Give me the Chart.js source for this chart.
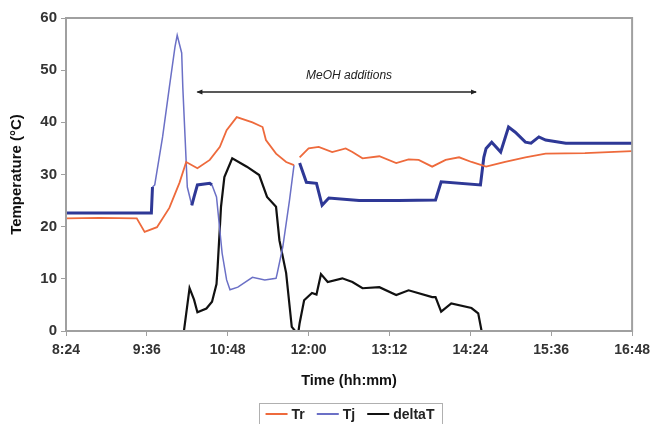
<!DOCTYPE html>
<html>
<head>
<meta charset="utf-8">
<script src="https://cdn.jsdelivr.net/npm/chart.js@4.4.1/dist/chart.umd.min.js"></script>
<style>
  html, body { margin: 0; padding: 0; background: #fff; }
  #wrap { width: 656px; height: 424px; position: relative; }
</style>
</head>
<body>
<div id="wrap"><canvas id="chart" width="656" height="424"></canvas></div>
<script>
// Reactor temperature log
const xTickLabels = ['8:24', '9:36', '10:48', '12:00', '13:12', '14:24', '15:36', '16:48'];

const trTimes = ['8:24', '8:54', '9:27', '9:34', '9:45', '9:56', '10:05', '10:11', '10:21', '10:32', '10:41', '10:47',
    '10:56', '11:10', '11:19', '11:22', '11:31', '11:40', '11:47', '11:49', '11:52', '12:00', '12:09', '12:21', '12:33',
    '12:39', '12:48', '13:03', '13:18', '13:29', '13:38', '13:50', '14:02', '14:14', '14:25', '14:38', '14:55', '15:13',
    '15:31', '16:06', '16:48'];
const trValues = [21.6, 21.7, 21.6, 19.0, 19.9, 23.6, 28.4, 32.4, 31.2, 32.8, 35.3, 38.5,
    41.0, 40.0, 39.1, 36.6, 34.0, 32.4, 31.8, null, 33.3, 35.0, 35.3, 34.3, 35.0,
    34.3, 33.1, 33.5, 32.2, 32.9, 32.8, 31.5, 32.8, 33.3, 32.4, 31.5, 32.4, 33.3,
    34.0, 34.1, 34.5];

const tjTimes = ['8:24', '9:40', '9:41', '9:43', '9:50', '9:56', '10:01', '10:03', '10:07', '10:08', '10:10', '10:12',
    '10:16', '10:18', '10:21', '10:32', '10:34', '10:38', '10:43', '10:47', '10:50', '10:57', '11:10', '11:21', '11:31',
    '11:32', '11:37', '11:43', '11:47', '11:49', '11:52', '11:58', '12:07', '12:12', '12:18', '12:45', '13:20', '13:53',
    '13:58', '14:33', '14:36', '14:38', '14:43', '14:51', '14:58', '15:04', '15:13', '15:18', '15:25', '15:31', '15:49',
    '16:48'];
const tjValues = [22.6, 22.6, 27.6, 28.0, 37.2, 46.7, 54.4, 56.7, 53.3, 46.7, 37.2, 27.6,
    24.1, 25.7, 28.0, 28.3, 28.0, 25.7, 14.9, 9.8, 7.9, 8.4, 10.3, 9.8, 10.1,
    11.0, 16.1, 25.1, 31.8, null, 32.2, 28.5, 28.3, 24.1, 25.5, 25.0, 25.0, 25.1,
    28.6, 28.0, 33.3, 35.0, 36.2, 34.3, 39.1, 38.1, 36.2, 36.0, 37.2, 36.6, 36.0,
    36.0];

const dtTimes = ['10:09', '10:14', '10:18', '10:21', '10:29', '10:34', '10:38', '10:39', '10:42', '10:45', '10:52', '11:05',
    '11:16', '11:23', '11:31', '11:34', '11:40', '11:45', '11:48', '11:51', '11:52', '11:56', '12:03', '12:07', '12:11',
    '12:17', '12:30', '12:39', '12:48', '13:03', '13:18', '13:29', '13:50', '13:53', '13:58', '14:07', '14:25', '14:31',
    '14:34'];
const dtValues = [0, 8.2, 6.0, 3.6, 4.3, 5.6, 9.0, 12.3, 23.8, 29.5, 33.1, 31.5,
    29.9, 25.7, 23.8, 17.4, 11.1, 0.8, 0, 0, 1.5, 5.9, 7.3, 7.0, 10.9,
    9.4, 10.1, 9.4, 8.2, 8.4, 6.9, 7.8, 6.5, 6.5, 3.7, 5.3, 4.4, 3.4,
    0];

// MeOH additions arrow
const arrowFrom = '10:21';
const arrowTo = '14:29';
const arrowLevel = 45.8;
const arrowText = 'MeOH additions';
const arrowTextAt = ['12:36', 49.0];

const toMin = s => { const [h, m] = s.split(':'); return +h * 60 + +m; };
const fmtMin = v => Math.floor(v / 60) + ':' + String(v % 60).padStart(2, '0');
const pts = (times, vals) => times.map((t, i) => ({ x: toMin(t), y: vals[i] }));

const FONT = 'Arial, "Liberation Sans", sans-serif';
const TR_COLOR = '#ee6a3c';
const TJ_DARK = '#2e3896';
const TJ_LIGHT = '#6b70c6';

// Tj trace looks thin during the fast swings
const tjThin = x => (x >= toMin('9:41') && x < toMin('10:16')) || (x >= toMin('10:34') && x < toMin('11:52'));

const framePlugin = {
    id: 'frame',
    afterDraw(chart) {
        const { ctx, chartArea: a, scales: { x, y } } = chart;
        ctx.save();
        // plot frame
        ctx.strokeStyle = '#a0a0a0';
        ctx.lineWidth = 2;
        ctx.strokeRect(a.left, a.top, a.right - a.left, a.bottom - a.top);

        // arrow
        const x0 = x.getPixelForValue(toMin(arrowFrom));
        const x1 = x.getPixelForValue(toMin(arrowTo));
        const ay = y.getPixelForValue(arrowLevel);
        ctx.strokeStyle = '#222';
        ctx.fillStyle = '#222';
        ctx.lineWidth = 1.5;
        ctx.beginPath();
        ctx.moveTo(x0, ay);
        ctx.lineTo(x1, ay);
        ctx.stroke();
        ctx.beginPath();
        ctx.moveTo(x0 - 1, ay);
        ctx.lineTo(x0 + 5, ay - 2.5);
        ctx.lineTo(x0 + 5, ay + 2.5);
        ctx.closePath();
        ctx.fill();
        ctx.beginPath();
        ctx.moveTo(x1 + 1, ay);
        ctx.lineTo(x1 - 5, ay - 2.5);
        ctx.lineTo(x1 - 5, ay + 2.5);
        ctx.closePath();
        ctx.fill();

        ctx.font = 'italic 12px ' + FONT;
        ctx.textAlign = 'center';
        ctx.textBaseline = 'middle';
        ctx.fillText(arrowText, x.getPixelForValue(toMin(arrowTextAt[0])), y.getPixelForValue(arrowTextAt[1]));

        // legend box
        const items = chart.data.datasets.map(ds => ({ label: ds.label, color: ds.legendColor }));
        ctx.font = 'bold 14px ' + FONT;
        ctx.textAlign = 'left';
        const lineLen = 22, gap = 4, sep = 12;
        let total = 0;
        items.forEach((it, i) => { total += lineLen + gap + ctx.measureText(it.label).width + (i < items.length - 1 ? sep : 0); });
        const cx = 350;
        const boxW = total + 14;
        const bx = cx - boxW / 2;
        const by = 403;
        ctx.strokeStyle = '#b0b0b0';
        ctx.lineWidth = 1;
        ctx.strokeRect(Math.round(bx) + 0.5, by + 0.5, Math.round(boxW), 30);
        let px = bx + 7;
        const ly = by + 11;
        items.forEach(it => {
            ctx.strokeStyle = it.color;
            ctx.lineWidth = 2;
            ctx.beginPath();
            ctx.moveTo(px, ly);
            ctx.lineTo(px + lineLen, ly);
            ctx.stroke();
            px += lineLen + gap;
            ctx.fillStyle = '#222';
            ctx.fillText(it.label, px, ly + 1);
            px += ctx.measureText(it.label).width + sep;
        });
        ctx.restore();
    }
};

new Chart(document.getElementById('chart'), {
    type: 'line',
    data: {
        datasets: [
            {
                label: 'Tr',
                data: pts(trTimes, trValues),
                borderColor: TR_COLOR,
                legendColor: TR_COLOR,
                borderWidth: 1.8,
                pointRadius: 0,
                tension: 0,
                spanGaps: false
            },
            {
                label: 'Tj',
                data: pts(tjTimes, tjValues),
                borderColor: TJ_DARK,
                legendColor: TJ_LIGHT,
                borderWidth: 3,
                pointRadius: 0,
                tension: 0,
                spanGaps: false,
                segment: {
                    borderWidth: c => tjThin(c.p0.parsed.x) ? 1.5 : 3,
                    borderColor: c => tjThin(c.p0.parsed.x) ? TJ_LIGHT : TJ_DARK
                }
            },
            {
                label: 'deltaT',
                data: pts(dtTimes, dtValues),
                borderColor: '#111',
                legendColor: '#111',
                borderWidth: 2.2,
                pointRadius: 0,
                tension: 0
            }
        ]
    },
    options: {
        responsive: false,
        animation: false,
        layout: { padding: { left: 0, right: 22, top: 18, bottom: 0 } },
        plugins: {
            legend: { display: false },
            tooltip: { enabled: false }
        },
        scales: {
            x: {
                type: 'linear',
                min: toMin(xTickLabels[0]),
                max: toMin(xTickLabels[xTickLabels.length - 1]),
                afterBuildTicks: s => { s.ticks = xTickLabels.map(t => ({ value: toMin(t) })); },
                afterFit: s => { s.height = 93; },
                ticks: {
                    callback: v => fmtMin(v),
                    maxRotation: 0,
                    autoSkip: false,
                    padding: 6,
                    color: '#333',
                    font: { family: FONT, size: 14, weight: 'bold' }
                },
                grid: { drawOnChartArea: false, drawTicks: true, tickLength: 5, color: '#a0a0a0' },
                border: { display: true, color: '#a0a0a0', width: 2 },
                title: {
                    display: true,
                    text: 'Time (hh:mm)',
                    color: '#111',
                    font: { family: FONT, size: 14.5, weight: 'bold' },
                    padding: { top: 0, bottom: 34 }
                }
            },
            y: {
                min: 0,
                max: 60,
                afterFit: s => { s.width = 66; },
                ticks: {
                    stepSize: 10,
                    padding: 4,
                    color: '#333',
                    font: { family: FONT, size: 15, weight: 'bold' }
                },
                grid: { drawOnChartArea: false, drawTicks: true, tickLength: 5, color: '#a0a0a0' },
                border: { display: true, color: '#a0a0a0', width: 2 },
                title: {
                    display: true,
                    text: 'Temperature (°C)',
                    color: '#111',
                    font: { family: FONT, size: 15, weight: 'bold' },
                    padding: { top: 8, bottom: 0 }
                }
            }
        }
    },
    plugins: [framePlugin]
});
</script>
</body>
</html>
